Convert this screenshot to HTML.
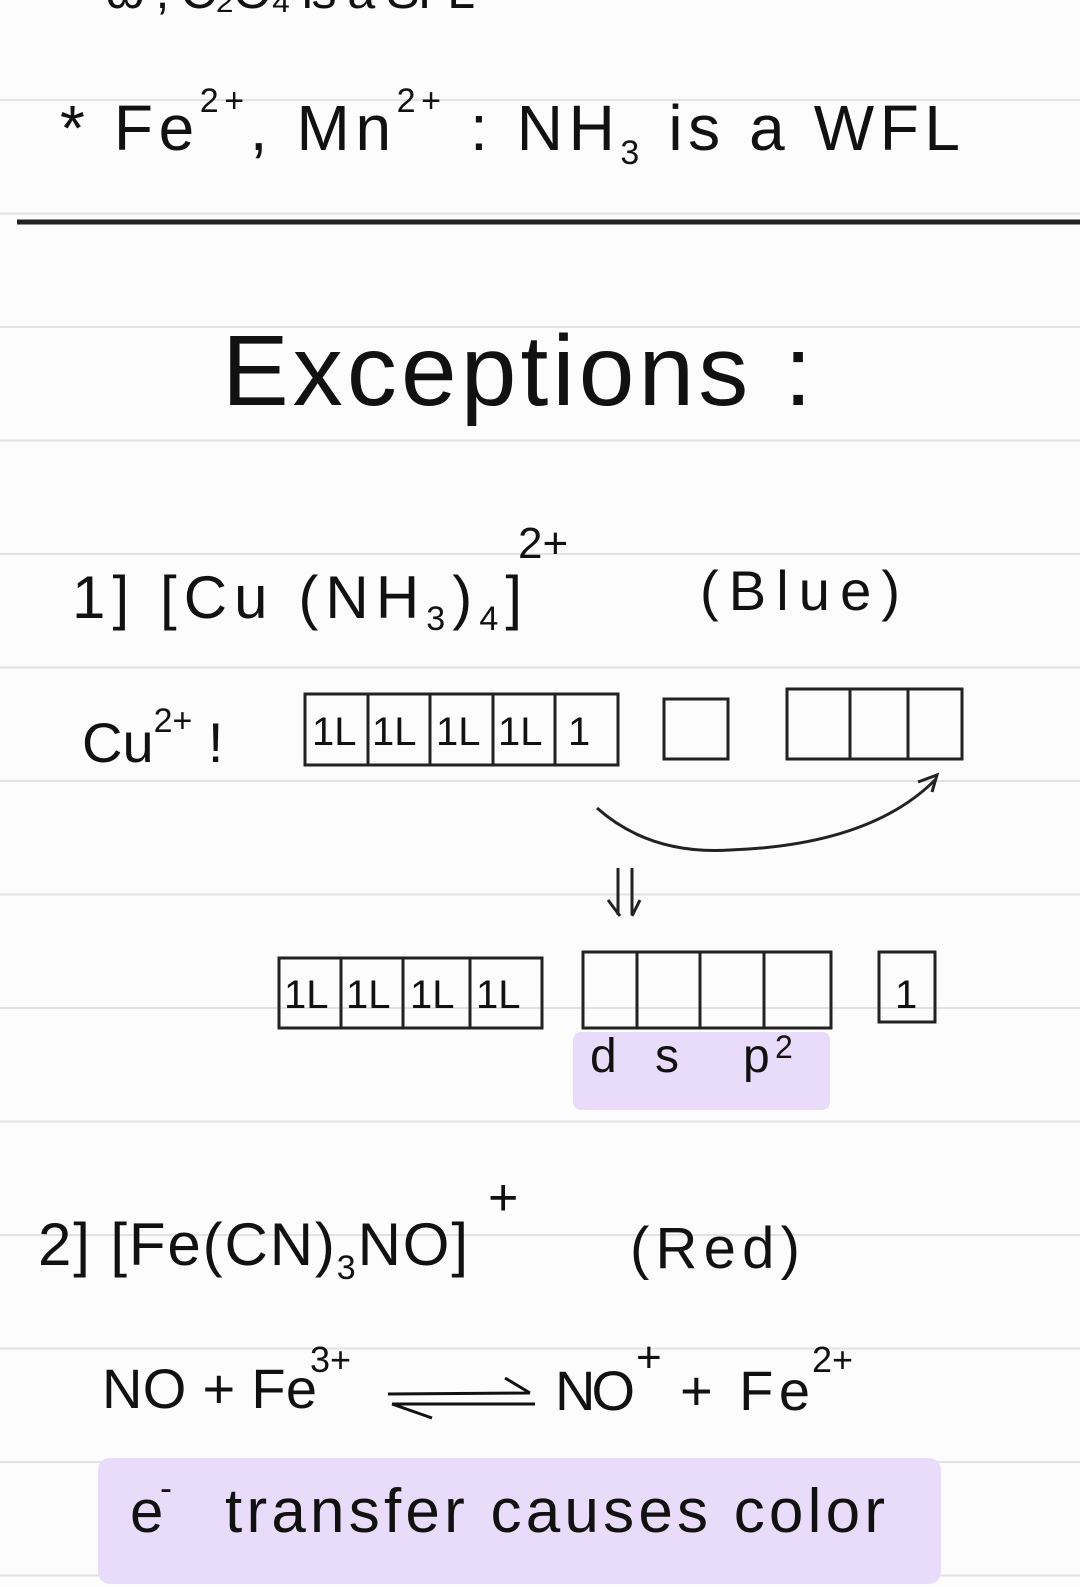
<!DOCTYPE html>
<html><head><meta charset="utf-8"><style>
html,body{margin:0;padding:0;background:#fcfcfc;}
svg{display:block}
text{font-family:"Liberation Sans",sans-serif;fill:#111;}
</style></head><body>
<svg width="1080" height="1587" viewBox="0 0 1080 1587" xmlns="http://www.w3.org/2000/svg">
<rect width="1080" height="1587" fill="#fcfcfc"/>
<g stroke="#e2e2e2" stroke-width="2">
<line x1="0" y1="100" x2="1080" y2="100"/>
<line x1="0" y1="213.5" x2="1080" y2="213.5"/>
<line x1="0" y1="327" x2="1080" y2="327"/>
<line x1="0" y1="440.5" x2="1080" y2="440.5"/>
<line x1="0" y1="554" x2="1080" y2="554"/>
<line x1="0" y1="667.5" x2="1080" y2="667.5"/>
<line x1="0" y1="781" x2="1080" y2="781"/>
<line x1="0" y1="894.5" x2="1080" y2="894.5"/>
<line x1="0" y1="1008" x2="1080" y2="1008"/>
<line x1="0" y1="1121.5" x2="1080" y2="1121.5"/>
<line x1="0" y1="1235" x2="1080" y2="1235"/>
<line x1="0" y1="1348.5" x2="1080" y2="1348.5"/>
<line x1="0" y1="1462" x2="1080" y2="1462"/>
<line x1="0" y1="1575.5" x2="1080" y2="1575.5"/>
</g>
<line x1="17" y1="222" x2="1080" y2="222" stroke="#222" stroke-width="5"/>
<rect x="573" y="1032" width="257" height="78" rx="8" fill="#e9dcfa"/>
<rect x="98" y="1458" width="843" height="126" rx="12" fill="#e9dcfa"/>

<text x="75" y="8" font-size="50" textLength="400" lengthAdjust="spacing">* ω ,  C₂O₄  is a  SFL</text>
<text x="60" y="150" font-size="64" textLength="900" lengthAdjust="spacing">* Fe<tspan font-size="34" dy="-38">2+</tspan><tspan dy="38">, Mn</tspan><tspan font-size="34" dy="-38">2+</tspan><tspan dy="38">  :  NH</tspan><tspan font-size="34" dy="14">3</tspan><tspan dy="-14"> is a WFL</tspan></text>
<text x="222" y="405" font-size="100" textLength="590" lengthAdjust="spacing">Exceptions :</text>
<text x="72" y="618" font-size="60" textLength="450" lengthAdjust="spacing">1] [Cu (NH<tspan font-size="34" dy="12">3</tspan><tspan dy="-12">)</tspan><tspan font-size="34" dy="12">4</tspan><tspan dy="-12">]</tspan></text>
<text x="518" y="558" font-size="44">2+</text>
<text x="700" y="610" font-size="56" textLength="200" lengthAdjust="spacing">(Blue)</text>
<text x="82" y="762" font-size="56">Cu<tspan font-size="34" dy="-30">2+</tspan><tspan dy="30"> !</tspan></text>
<g fill="none" stroke="#222" stroke-width="3">
<rect x="305" y="694" width="313" height="71"/>
<line x1="368" y1="694" x2="368" y2="765"/><line x1="430" y1="694" x2="430" y2="765"/><line x1="493" y1="694" x2="493" y2="765"/><line x1="555" y1="694" x2="555" y2="765"/>
<rect x="664" y="699" width="64" height="60"/>
<rect x="787" y="689" width="175" height="70"/>
<line x1="850" y1="689" x2="850" y2="759"/><line x1="908" y1="689" x2="908" y2="759"/>
<path d="M597 808 Q650 855 730 850 Q870 845 935 780"/><path d="M918 782 L937 775 L932 792"/>
<line x1="618" y1="868" x2="618" y2="915"/><line x1="632" y1="868" x2="632" y2="915"/><path d="M608 900 L620 916 M640 900 L632 916"/>
<rect x="279" y="958" width="263" height="70"/>
<line x1="341" y1="958" x2="341" y2="1028"/><line x1="403" y1="958" x2="403" y2="1028"/><line x1="470" y1="958" x2="470" y2="1028"/>
<rect x="583" y="952" width="248" height="76"/>
<line x1="637" y1="952" x2="637" y2="1028"/><line x1="700" y1="952" x2="700" y2="1028"/><line x1="764" y1="952" x2="764" y2="1028"/>
<rect x="879" y="952" width="56" height="70"/>
</g>
<g font-size="40">
<text x="312" y="745">1L</text><text x="372" y="745">1L</text><text x="436" y="745">1L</text><text x="498" y="745">1L</text><text x="568" y="745">1</text>
<text x="284" y="1008">1L</text><text x="346" y="1008">1L</text><text x="410" y="1008">1L</text><text x="476" y="1008">1L</text><text x="895" y="1008">1</text>
</g>
<text x="590" y="1072" font-size="48">d</text><text x="655" y="1072" font-size="48">s</text><text x="743" y="1072" font-size="48">p</text><text x="775" y="1058" font-size="32">2</text>
<text x="38" y="1265" font-size="60" textLength="430" lengthAdjust="spacing">2] [Fe(CN)<tspan font-size="34" dy="14">3</tspan><tspan dy="-14">NO]</tspan></text>
<text x="488" y="1215" font-size="52">+</text>
<text x="630" y="1268" font-size="58" textLength="170" lengthAdjust="spacing">(Red)</text>
<text x="102" y="1408" font-size="56" textLength="215" lengthAdjust="spacing">NO + Fe</text><text x="310" y="1372" font-size="36">3+</text>
<g fill="none" stroke="#111" stroke-width="3"><path d="M388 1394 L530 1393 M505 1378 L530 1393"/><path d="M392 1404 L535 1404 M392 1404 L432 1418"/></g>
<text x="555" y="1410" font-size="56" textLength="80" lengthAdjust="spacing">NO</text>
<text x="636" y="1372" font-size="44">+</text>
<text x="680" y="1410" font-size="56" textLength="130" lengthAdjust="spacing">+ Fe</text>
<text x="812" y="1372" font-size="36">2+</text>
<text x="130" y="1532" font-size="60">e</text><text x="160" y="1500" font-size="36">-</text>
<text x="225" y="1532" font-size="62" textLength="660" lengthAdjust="spacing">transfer  causes  color</text>
</svg>
</body></html>
